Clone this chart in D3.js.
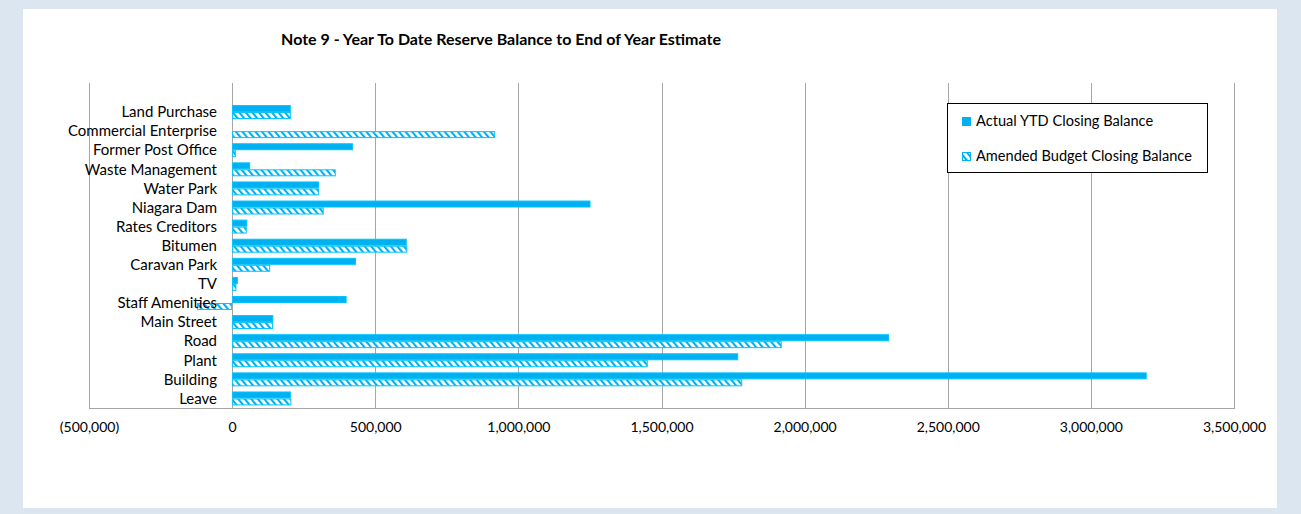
<!doctype html>
<html lang="en">
  <head>
    <meta charset="UTF-8">
    <title>Note 9 - Year To Date Reserve Balance</title>
    <style>
      body { margin: 0; background: #dce6f1; }
      svg { display: block; }
      .label { font: 14px Lato, "Open Sans", sans-serif; fill: #000; }
      .cat { font-size: 15px; }
      .leg { font-size: 14.6px; }
      .title { font: bold 16px Lato, "Open Sans", sans-serif; fill: #000; }
      .grid { stroke: #a6a6a6; stroke-width: 1; }
    </style>
  </head>
  <body>
    <svg width="1301" height="514"></svg>
    <script src="https://cdn.jsdelivr.net/npm/d3@7"></script>
    <script>

      // categories, top to bottom
      var categories = ["Land Purchase", "Commercial Enterprise", "Former Post Office", "Waste Management",
        "Water Park", "Niagara Dam", "Rates Creditors", "Bitumen", "Caravan Park", "TV",
        "Staff Amenities", "Main Street", "Road", "Plant", "Building", "Leave"];

      var actualYTD = [205000, 0, 422000, 63000, 304000, 1252000, 53000, 610000, 433000, 20000,
        400000, 144000, 2295000, 1768000, 3195000, 205000];

      var amendedBudget = [205000, 919000, 13000, 362000, 303000, 320000, 51000, 612000, 133000, 15000,
        -123000, 143000, 1920000, 1452000, 1782000, 207000];

      var seriesNames = ["Actual YTD Closing Balance", "Amended Budget Closing Balance"];

      var xTicks = [-500000, 0, 500000, 1000000, 1500000, 2000000, 2500000, 3000000, 3500000];

      var svg = d3.select("svg"),
              plot = {left: 89, right: 1234, top: 83, bottom: 408},
              blue = "#00b0f0";

      // white chart panel
      svg.append("rect")
              .attr("x", 23).attr("y", 9)
              .attr("width", 1254).attr("height", 499)
              .attr("fill", "#fff");

      var defs = svg.append("defs");
      var pat = defs.append("pattern")
              .attr("id", "hatch")
              .attr("patternUnits", "userSpaceOnUse")
              .attr("width", 5).attr("height", 5)
              .attr("patternTransform", "rotate(-40)");
      pat.append("rect").attr("width", 5).attr("height", 5).attr("fill", "#fff");
      pat.append("rect").attr("width", 2.1).attr("height", 5).attr("fill", blue);

      var x = d3.scaleLinear()
              .domain([xTicks[0], xTicks[xTicks.length - 1]])
              .range([plot.left, plot.right]);

      var y = d3.scaleBand()
              .domain(categories)
              .range([102.5, plot.bottom])
              .paddingInner(0.27)
              .paddingOuter(0.135);

      var ySub = d3.scaleBand()
              .domain([0, 1])
              .range([0, y.bandwidth()]);

      svg.append("text")
              .attr("class", "title")
              .attr("x", 501).attr("y", 45)
              .attr("text-anchor", "middle")
              .text("Note 9 - Year To Date Reserve Balance to End of Year Estimate");

      // vertical gridlines
      svg.append("g").selectAll("line")
              .data(xTicks)
              .enter().append("line")
              .attr("class", "grid")
              .attr("x1", function (d) { return Math.round(x(d)) + 0.5; })
              .attr("x2", function (d) { return Math.round(x(d)) + 0.5; })
              .attr("y1", plot.top)
              .attr("y2", plot.bottom);

      svg.append("line")
              .attr("class", "grid")
              .attr("x1", plot.left).attr("x2", plot.right + 1)
              .attr("y1", plot.bottom + 0.5).attr("y2", plot.bottom + 0.5);

      var fmt = d3.format(",");
      var axis = d3.axisBottom(x)
              .tickValues(xTicks)
              .tickSize(0)
              .tickPadding(14)
              .tickFormat(function (d) { return d < 0 ? "(" + fmt(-d) + ")" : fmt(d); });

      var gx = svg.append("g")
              .attr("transform", "translate(0," + plot.bottom + ")")
              .call(axis);
      gx.select(".domain").remove();
      gx.selectAll("text").attr("class", "label").attr("font-family", null).attr("font-size", null);

      // bars
      var seriesData = [actualYTD, amendedBudget];
      seriesData.forEach(function (vals, si) {
        svg.append("g").selectAll("rect")
                .data(vals)
                .enter().append("rect")
                .attr("x", function (d) { return x(Math.min(0, d)) + 0.5; })
                .attr("y", function (d, i) { return y(categories[i]) + ySub(si) + 0.5; })
                .attr("width", function (d) { return Math.max(0, Math.abs(x(d) - x(0)) - 1); })
                .attr("height", ySub.bandwidth() - 1)
                .attr("fill", si === 0 ? blue : "url(#hatch)")
                .attr("stroke", d3.color(blue).brighter(0.3))
                .attr("stroke-width", 1);
      });

      // category labels
      svg.append("g").selectAll("text")
              .data(categories)
              .enter().append("text")
              .attr("class", "label cat")
              .attr("x", 217)
              .attr("y", function (d) { return y(d) + y.bandwidth() / 2; })
              .attr("dy", "0.35em")
              .attr("text-anchor", "end")
              .text(function (d) { return d; });

      // legend
      var legend = svg.append("g").attr("transform", "translate(947,103)");
      legend.append("rect")
              .attr("x", 0.5).attr("y", 0.5)
              .attr("width", 260).attr("height", 69)
              .attr("fill", "#fff")
              .attr("stroke", "#000");
      var item = legend.selectAll(".item")
              .data(seriesNames)
              .enter().append("g")
              .attr("class", "item")
              .attr("transform", function (d, i) { return "translate(15," + (18 + i * 35) + ")"; });
      item.append("rect")
              .attr("x", 0.5).attr("y", -3.5)
              .attr("width", 8).attr("height", 8)
              .attr("fill", function (d, i) { return i === 0 ? blue : "url(#hatch)"; })
              .attr("stroke", blue);
      item.append("text")
              .attr("class", "label leg")
              .attr("x", 14)
              .attr("dy", "0.35em")
              .text(function (d) { return d; });

    </script>
  </body>
</html>
